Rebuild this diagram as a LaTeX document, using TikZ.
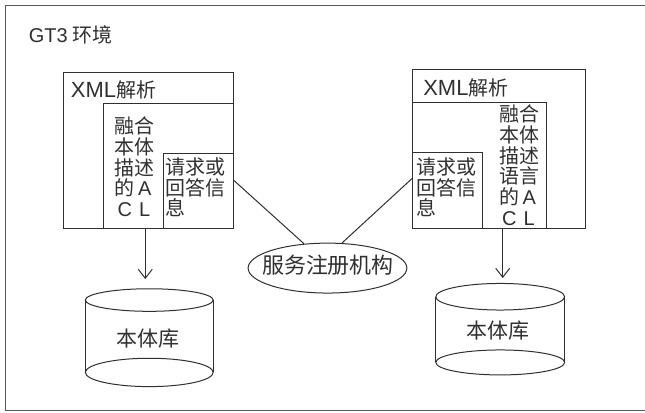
\documentclass[tikz,border=0pt]{standalone}
\usepackage{fontspec}
\setmainfont{Noto Sans CJK SC}
\newfontfamily\latn{Liberation Sans}
\usetikzlibrary{arrows.meta,fit,shapes.geometric}
\definecolor{ink}{HTML}{303030}
\newcommand\cc[1]{\makebox[1em]{#1}}
\begin{document}
\begin{tikzpicture}[x=1pt,y=-1pt,
  every path/.style={draw=ink},
  line width=1pt,
  box/.style={draw=ink, inner sep=0pt, line width=1pt},
  txt/.style={text=ink, inner sep=0pt, font=\fontsize{20}{20.75}\selectfont, align=left},
  arr/.style={-{Straight Barb[length=9pt,width=14pt,line width=1pt]}, draw=ink, line width=1pt},
  link/.style={draw=ink, line width=1pt}]
\useasboundingbox (0,0) rectangle (645,412);
\fill[white] (0,0) rectangle (645,412);
% frame
\draw[line width=1.4pt, draw=ink!80] (645,5) -- (5,5) -- (5,410.5) -- (645,410.5);
\node[txt, anchor=base west] (env) at (28,42) {{\latn\fontsize{20}{20}\selectfont GT3} 环境};

% left agent
\node[box, fit={(63,72)(233,228)}] (L) {};
\node[box, fit={(103,103)(233,228)}] (LA) {};
\node[box, fit={(163,153)(233,228)}] (LR) {};
\node[txt, anchor=base west] (Lx) at (70,97) {{\latn\fontsize{22}{22}\selectfont XML}解析};
\node[txt, anchor=north west] (Lat) at (114,116) {\cc{融}\cc{合}\\\cc{本}\cc{体}\\\cc{描}\cc{述}\\\cc{的}\cc{\latn A}\\\cc{\latn C}\cc{\latn L}};
\node[txt, anchor=north west] (Lrt) at (165,157) {请求或\\回答信\\息};

% right agent
\node[box, fit={(413,69)(586,228)}] (R) {};
\node[box, fit={(413,102)(547,228)}] (RA) {};
\node[box, fit={(413,152)(483,228)}] (RR) {};
\node[txt, anchor=base west] (Rx) at (423,95) {{\latn\fontsize{22}{22}\selectfont XML}解析};
\node[txt, anchor=north west] (Rat) at (499,104) {\cc{融}\cc{合}\\\cc{本}\cc{体}\\\cc{描}\cc{述}\\\cc{语}\cc{言}\\\cc{的}\cc{\latn A}\\\cc{\latn C}\cc{\latn L}};
\node[txt, anchor=north west] (Rrt) at (416,157) {请求或\\回答信\\息};

% registry
\node[ellipse, draw=ink, line width=1pt, minimum width=159pt, minimum height=50pt, inner sep=0pt] (reg) at (327.5,268) {};
\node[txt, font=\fontsize{22}{22}\selectfont] (regt) at (328,265) {服务注册机构};
\draw[link] ([yshift=10.5pt]LR.east) -- (reg.134);
\draw[link] ([yshift=12pt]RR.west) -- (reg.60);

% left cylinder
\draw[line width=1pt] (149,300) ellipse [x radius=64pt, y radius=11.3pt];
\draw[line width=1pt] (149,372.5) ellipse [x radius=64pt, y radius=14.2pt];
\draw[line width=1pt] (85,300) -- (85,372.5) (213,300) -- (213,372.5);
\node[txt, font=\fontsize{21}{21}\selectfont] (dbL) at (147.5,338.5) {本体库};
\coordinate (tipL) at (145,279);
\draw[arr] (LA.south -| tipL) -- (tipL);

% right cylinder
\draw[line width=1pt] (500.5,296.7) ellipse [x radius=64.5pt, y radius=13.3pt];
\draw[line width=1pt] (500.5,362.5) ellipse [x radius=64.5pt, y radius=12.5pt];
\draw[line width=1pt] (436,296.7) -- (436,362.5) (565,296.7) -- (565,362.5);
\node[txt, font=\fontsize{21}{21}\selectfont] (dbR) at (498.5,331) {本体库};
\coordinate (tipR) at (503,278);
\draw[arr] (RA.south -| tipR) -- (tipR);
\end{tikzpicture}
\end{document}
